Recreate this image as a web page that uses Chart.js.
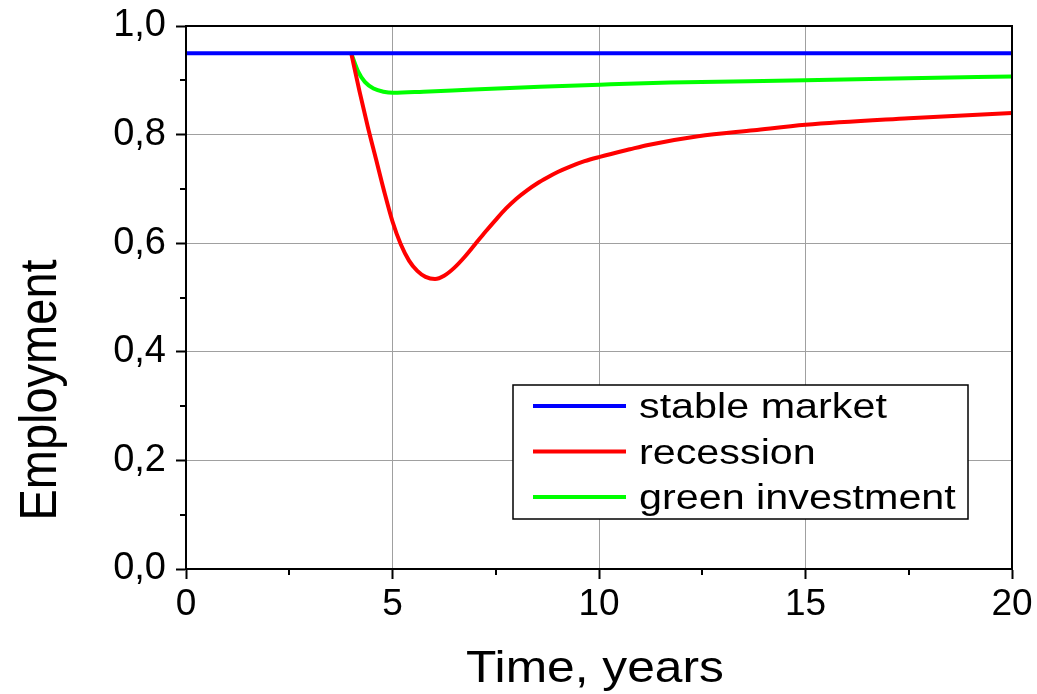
<!DOCTYPE html>
<html><head><meta charset="utf-8">
<script src="https://cdn.jsdelivr.net/npm/chart.js@4/dist/chart.umd.min.js"></script>
<style>html,body{margin:0;padding:0;background:#fff;overflow:hidden}</style>
</head><body>
<canvas id="c" width="1037" height="694" style="width:1037px;height:694px;display:block"></canvas>
<script>
// ---- data ----
const seriesNames = ['stable market', 'recession', 'green investment'];
const seriesColors = ['#0000ff', '#ff0000', '#00ff00'];
const stableX = [0, 20];
const stableY = [0.95, 0.95];
const recessionX = [4.0, 4.2, 4.4, 4.6, 4.8, 5.0, 5.2, 5.4, 5.6, 5.8, 6.03, 6.25, 6.5, 6.75, 7.0, 7.25, 7.5, 7.75, 8.0, 8.25, 8.5, 8.75, 9.0, 9.3, 9.65, 10.02, 10.75, 11.19, 12.4, 13.75, 15, 17.5, 20];
const recessionY = [0.95, 0.88, 0.815, 0.755, 0.695, 0.640, 0.598, 0.568, 0.549, 0.538, 0.534, 0.540, 0.555, 0.575, 0.598, 0.621, 0.643, 0.664, 0.682, 0.697, 0.710, 0.721, 0.731, 0.741, 0.751, 0.759, 0.773, 0.781, 0.797, 0.808, 0.818, 0.830, 0.840];
const greenX = [4.0, 4.17, 4.33, 4.54, 4.78, 5.02, 5.75, 6.96, 8.57, 10.02, 11.72, 15, 17.5, 20];
const greenY = [0.95, 0.916, 0.897, 0.885, 0.879, 0.877, 0.879, 0.883, 0.888, 0.892, 0.896, 0.900, 0.904, 0.907];
const xTickValues = [0, 5, 10, 15, 20];
const xMinorTicks = [2.5, 7.5, 12.5, 17.5];
const yTickValues = [0, 0.2, 0.4, 0.6, 0.8, 1.0];
const yMinorTicks = [0.1, 0.3, 0.5, 0.7, 0.9];
const xTitle = 'Time, years';
const yTitle = 'Employment';

const toPts = (xs, ys) => xs.map((x, i) => ({x: x, y: ys[i]}));

const FONT = "'Liberation Sans', Arial, sans-serif";

const framePlugin = {
  id: 'frame',
  afterDraw(chart) {
    const ctx = chart.ctx;
    const a = chart.chartArea;
    const xs = chart.scales.x, ys = chart.scales.y;
    ctx.save();
    ctx.strokeStyle = '#000';
    ctx.lineWidth = 2;
    ctx.strokeRect(a.left, a.top, a.right - a.left, a.bottom - a.top);
    // minor ticks
    ctx.beginPath();
    xMinorTicks.forEach(v => {
      const px = Math.round(xs.getPixelForValue(v));
      ctx.moveTo(px, a.bottom); ctx.lineTo(px, a.bottom + 6);
    });
    yMinorTicks.forEach(v => {
      const py = Math.round(ys.getPixelForValue(v));
      ctx.moveTo(a.left, py); ctx.lineTo(a.left - 6, py);
    });
    ctx.stroke();
    // axis titles
    ctx.fillStyle = '#000';
    ctx.textAlign = 'center';
    ctx.textBaseline = 'alphabetic';
    ctx.save();
    ctx.translate((a.left + a.right) / 2 - 4, 682);
    ctx.scale(1.13, 1);
    ctx.font = '44px ' + FONT;
    ctx.fillText(xTitle, 0, 0);
    ctx.restore();
    ctx.save();
    ctx.translate(56, 390);
    ctx.scale(1.1, 1);
    ctx.rotate(-Math.PI / 2);
    ctx.font = '47px ' + FONT;
    ctx.fillText(yTitle, 0, 0);
    ctx.restore();
    // legend box
    const bx = a.left + 327, by = a.top + 359, bw = 455, bh = 134;
    ctx.fillStyle = '#fff';
    ctx.fillRect(bx, by, bw, bh);
    ctx.strokeStyle = '#000';
    ctx.lineWidth = 1.5;
    ctx.strokeRect(bx, by, bw, bh);
    ctx.textBaseline = 'alphabetic';
    ctx.textAlign = 'left';
    chart.data.datasets.forEach((ds, i) => {
      const ry = by + 21 + i * 45.5;
      ctx.strokeStyle = ds.borderColor;
      ctx.lineWidth = 4;
      ctx.beginPath();
      ctx.moveTo(bx + 20, ry); ctx.lineTo(bx + 113, ry);
      ctx.stroke();
      ctx.fillStyle = '#000';
      ctx.save();
      ctx.translate(bx + 126, ry + 12);
      ctx.scale(1.18, 1);
      ctx.font = '35px ' + FONT;
      ctx.fillText(ds.label, 0, 0);
      ctx.restore();
    });
    ctx.restore();
  }
};

new Chart(document.getElementById('c'), {
  type: 'line',
  data: {
    datasets: [
      {label: seriesNames[0], data: toPts(stableX, stableY), borderColor: seriesColors[0]},
      {label: seriesNames[1], data: toPts(recessionX, recessionY), borderColor: seriesColors[1]},
      {label: seriesNames[2], data: toPts(greenX, greenY), borderColor: seriesColors[2]}
    ]
  },
  options: {
    responsive: false,
    animation: false,
    devicePixelRatio: 1,
    layout: {padding: {left: 0, right: 25, top: 26, bottom: 0}},
    elements: {
      point: {radius: 0},
      line: {borderWidth: 4, cubicInterpolationMode: 'monotone', fill: false}
    },
    plugins: {legend: {display: false}, tooltip: {enabled: false}},
    scales: {
      x: {
        type: 'linear', min: 0, max: 20,
        afterBuildTicks: s => { s.ticks = xTickValues.map(v => ({value: v})); },
        afterFit: s => { s.height = 125; s.paddingLeft = 0; s.paddingRight = 0; },
        grid: {color: '#a0a0a0', lineWidth: 1, tickColor: '#000', tickLength: 10, tickWidth: 2},
        border: {color: '#000', width: 2},
        ticks: {color: '#000', font: {family: FONT, size: 37}, padding: 4, maxRotation: 0, autoSkip: false},
        title: {display: false}
      },
      y: {
        type: 'linear', min: 0, max: 1,
        afterBuildTicks: s => { s.ticks = yTickValues.map(v => ({value: v})); },
        afterFit: s => { s.width = 186; s.paddingTop = 0; s.paddingBottom = 0; },
        grid: {color: '#a0a0a0', lineWidth: 1, tickColor: '#000', tickLength: 10, tickWidth: 2},
        border: {color: '#000', width: 2},
        ticks: {color: '#000', font: {family: FONT, size: 38}, padding: 10,
          callback: v => v.toFixed(1).replace('.', ',')},
        title: {display: false}
      }
    }
  },
  plugins: [framePlugin]
});
</script>
</body></html>
